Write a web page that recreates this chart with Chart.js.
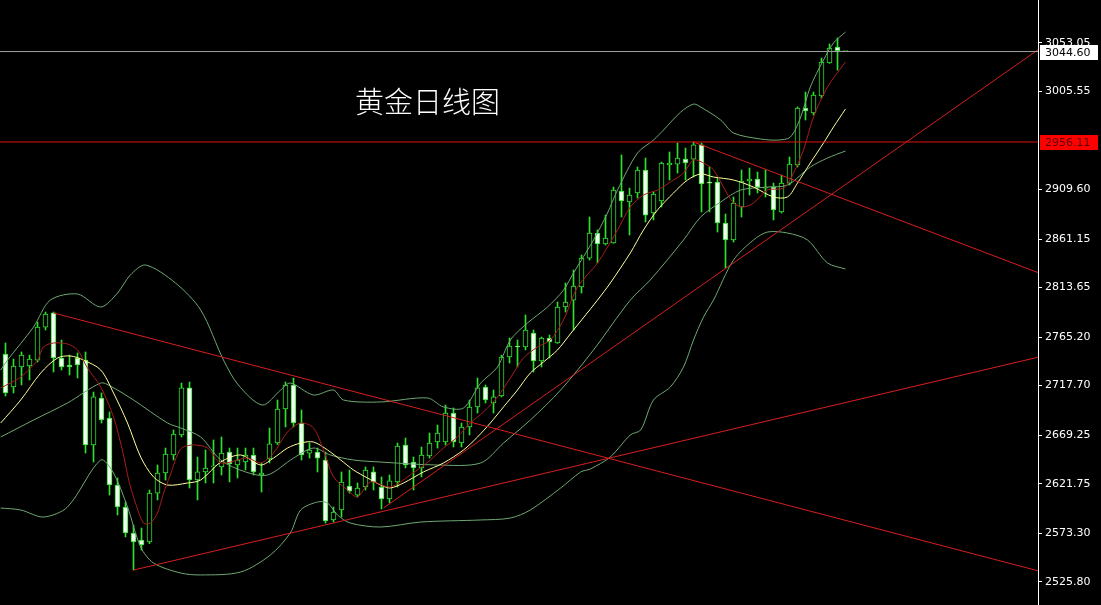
<!DOCTYPE html>
<html>
<head>
<meta charset="utf-8">
<script src="https://cdn.jsdelivr.net/npm/chart.js@4.4.1/dist/chart.umd.min.js"></script>
<style>
  html, body { margin: 0; padding: 0; background: #000; }
  #wrap { position: relative; width: 1101px; height: 605px; background: #000; }
  #title { position: absolute; left: 355px; top: 86px; color: #fff; font-family: "Noto Sans CJK SC", sans-serif; font-size: 29px; line-height: 1; font-weight: 300; white-space: nowrap; }
</style>
</head>
<body>
<div id="wrap">
  <canvas id="c" width="1101" height="605"></canvas>
  <div id="title">黄金日线图</div>
</div>
<script>
// ---- Daily candles (index 0..105) ----
const opens = [2748.6,2716.3,2735.9,2736.9,2742.7,2775.0,2788.8,2744.7,2737.9,2744.7,
  2742.7,2659.6,2705.6,2686.0,2620.4,2598.9,2573.5,2566.6,2564.7,2612.5,
  2632.2,2649.8,2669.4,2715.4,2625.3,2633.2,2638.1,2638.1,2652.7,2640.0,
  2642.9,2649.8,2630.2,2645.9,2661.5,2694.8,2718.3,2681.1,2651.7,2652.7,
  2644.9,2586.2,2596.0,2619.4,2610.6,2618.5,2633.2,2618.5,2606.7,2623.4,
  2659.6,2642.9,2637.1,2648.8,2662.5,2662.5,2690.9,2661.5,2677.2,2696.8,
  2716.3,2700.7,2707.5,2745.7,2756.4,2755.5,2769.2,2741.8,2764.3,2759.4,
  2794.6,2801.4,2814.2,2842.5,2867.0,2856.3,2857.3,2908.1,2897.4,2906.2,
  2928.7,2886.6,2898.4,2933.6,2934.5,2939.4,2939.4,2953.2,2916.9,2916.9,
  2876.8,2860.2,2892.5,2917.9,2919.9,2911.0,2912.0,2887.6,2915.9,2933.6,
  2989.4,2984.5,3001.1,3033.4,3049.0,3044.6];
const highs = [2759.4,2743.7,2750.6,2747.6,2779.9,2789.7,2789.7,2762.3,2747.6,2749.6,
  2750.6,2711.4,2710.5,2691.9,2627.3,2603.8,2581.3,2578.3,2615.5,2640.0,
  2656.6,2674.3,2720.2,2721.2,2647.8,2654.7,2664.5,2667.4,2656.6,2656.6,
  2656.6,2656.6,2642.0,2676.2,2703.6,2721.2,2725.1,2693.8,2661.5,2656.6,
  2652.7,2598.9,2633.2,2635.1,2622.4,2638.1,2638.1,2628.3,2630.2,2661.5,
  2666.4,2647.8,2657.6,2671.3,2679.1,2698.7,2695.8,2681.1,2703.6,2725.1,
  2718.3,2713.4,2747.6,2764.3,2762.3,2786.8,2772.1,2765.3,2767.2,2799.5,
  2818.1,2830.8,2845.5,2882.7,2870.0,2884.6,2912.0,2943.4,2911.0,2931.6,
  2940.4,2907.2,2936.5,2946.3,2955.1,2950.2,2956.1,2955.1,2931.6,2921.8,
  2885.6,2902.3,2928.7,2930.6,2926.7,2928.7,2915.9,2923.8,2941.4,2990.4,
  3005.0,3005.0,3038.3,3052.0,3057.9,3044.6];
const lows = [2707.5,2710.5,2718.3,2723.2,2740.8,2772.1,2731.0,2733.0,2728.1,2725.1,
  2651.7,2642.9,2681.1,2610.6,2591.1,2569.6,2537.2,2556.8,2563.0,2605.8,
  2625.3,2644.9,2667.4,2617.5,2605.8,2622.4,2622.4,2630.2,2623.4,2627.3,
  2635.1,2630.2,2613.5,2642.0,2660.0,2677.2,2677.2,2644.9,2646.8,2633.2,
  2583.2,2584.2,2589.1,2612.5,2608.7,2615.5,2615.5,2597.0,2602.8,2618.5,
  2637.1,2615.5,2628.3,2646.8,2656.6,2659.6,2657.6,2657.6,2669.4,2690.9,
  2700.7,2690.9,2706.6,2739.8,2735.9,2752.6,2731.0,2735.9,2744.7,2759.0,
  2789.7,2772.1,2808.3,2840.6,2837.7,2855.3,2857.0,2882.7,2865.1,2901.3,
  2877.8,2879.8,2892.5,2918.9,2925.7,2918.9,2921.8,2887.6,2887.6,2868.0,
  2832.8,2858.2,2882.7,2904.2,2906.2,2902.3,2879.8,2886.6,2914.0,2931.6,
  2977.6,2982.5,2999.1,3033.0,3026.5,3044.6];
const closes = [2710.5,2736.9,2747.6,2743.7,2775.0,2787.8,2744.7,2735.9,2735.9,2737.9,
  2659.6,2706.6,2684.0,2620.4,2598.9,2573.5,2564.7,2561.7,2612.5,2632.2,
  2650.7,2670.3,2715.4,2625.3,2633.2,2637.1,2639.0,2651.7,2641.0,2644.9,
  2649.8,2633.2,2632.2,2660.6,2694.8,2718.3,2681.1,2649.8,2654.7,2646.8,
  2585.2,2594.0,2623.4,2614.5,2617.5,2635.1,2623.4,2606.7,2624.4,2658.6,
  2640.0,2637.1,2649.8,2661.5,2671.3,2690.9,2662.5,2677.2,2696.8,2715.4,
  2703.6,2706.6,2745.7,2756.4,2755.5,2772.1,2741.8,2764.3,2760.4,2794.6,
  2799.5,2815.2,2842.5,2867.0,2856.3,2862.1,2909.1,2898.4,2904.2,2928.7,
  2884.6,2905.2,2935.5,2935.5,2940.4,2935.5,2953.2,2915.0,2915.9,2876.8,
  2860.2,2896.4,2917.9,2919.9,2912.0,2912.0,2889.6,2915.9,2934.5,2989.4,
  2986.4,3002.1,3034.4,3048.0,3045.5,3044.6];

// ---- Indicator lines: [candle index, price] ----
const maFast = [[-0.6,2715.4],[1.9,2726.1],[4.0,2742.7],[4.75,2755.5],[6.0,2759.4],[7.75,2758.4],[9.0,2752.6],
  [10.25,2734.9],[11.9,2716.3],[13.5,2687.0],[14.75,2649.8],[15.4,2625.3],[16.25,2602.8],[17.25,2583.2],
  [18.1,2583.2],[19.0,2593.0],[19.75,2612.5],[20.6,2630.2],[21.9,2655.7],[23.5,2659.6],[25.25,2656.6],
  [26.9,2642.0],[30.25,2646.8],[31.9,2642.0],[33.5,2651.7],[35.25,2672.3],[36.9,2681.1],[38.5,2676.2],
  [39.75,2654.7],[41.0,2628.3],[42.75,2615.5],[44.0,2608.7],[45.6,2623.4],[48.1,2618.5],[50.6,2630.2],
  [53.1,2644.9],[54.75,2656.6],[56.5,2667.4],[58.1,2681.1],[59.75,2691.9],[61.5,2706.6],[63.1,2725.1],
  [64.75,2744.7],[66.5,2755.5],[68.1,2762.3],[69.75,2781.9],[71.5,2814.2],[74.0,2837.7],[76.5,2870.0],
  [78.1,2892.5],[79.75,2904.2],[81.5,2909.1],[83.1,2916.9],[84.75,2925.7],[86.0,2938.5],[87.25,2935.5],
  [88.5,2928.7],[89.75,2912.0],[91.0,2896.4],[92.25,2892.5],[93.5,2896.4],[95.25,2909.1],[97.25,2911.0],
  [98.5,2925.7],[99.75,2948.3],[101.0,2980.5],[102.75,3009.9],[105.0,3034.4]];
const maSlow = [[-0.6,2681.1],[1.9,2703.6],[4.4,2730.0],[6.5,2744.7],[8.1,2746.7],[9.75,2742.7],[11.9,2733.0],
  [13.5,2710.5],[15.25,2681.1],[16.9,2647.8],[18.5,2628.3],[20.25,2620.4],[22.75,2622.4],[24.4,2625.3],
  [26.9,2642.9],[29.4,2649.8],[31.9,2640.0],[33.5,2646.8],[35.25,2656.6],[36.9,2661.5],[38.5,2662.5],
  [40.25,2654.7],[41.9,2644.9],[43.5,2635.1],[45.25,2627.3],[46.9,2620.4],[48.1,2617.5],[49.75,2622.4],
  [52.25,2633.2],[54.75,2642.0],[57.25,2654.7],[59.0,2667.4],[60.6,2681.1],[62.25,2696.8],[64.0,2713.4],
  [65.6,2730.0],[67.25,2740.8],[69.0,2752.6],[70.6,2768.2],[74.0,2801.4],[75.6,2818.1],[78.1,2847.5],
  [79.75,2870.0],[81.5,2889.6],[83.5,2906.2],[85.25,2918.9],[86.9,2924.8],[88.5,2921.8],[91.0,2918.9],
  [93.5,2912.0],[96.0,2902.3],[97.75,2902.3],[99.0,2915.9],[100.6,2935.5],[102.25,2955.1],[103.5,2970.8],
  [105.0,2988.4]];
const bandMid = [[-0.6,2667.4],[3.5,2684.0],[7.75,2700.7],[11.9,2720.2],[13.1,2717.3],[16.0,2703.6],
  [20.25,2681.1],[21.9,2676.2],[24.4,2667.4],[26.9,2644.9],[30.0,2633.2],[32.75,2630.2],[36.0,2646.8],
  [38.5,2656.6],[40.6,2649.8],[43.5,2644.9],[46.9,2642.9],[54.0,2640.0],[59.4,2642.0],[62.25,2661.5],
  [65.6,2684.0],[69.4,2713.4],[73.5,2752.6],[78.1,2801.4],[80.6,2821.1],[84.75,2860.2],[86.9,2882.7],
  [89.4,2897.4],[91.9,2909.1],[95.25,2912.0],[97.75,2914.0],[100.6,2931.6],[102.75,2940.4],[105.0,2947.3]];
const bandUp = [[-0.6,2733.0],[0.25,2742.7],[3.5,2775.0],[5.6,2801.4],[9.0,2807.3],[11.9,2794.6],[14.0,2808.3],
  [15.6,2825.9],[17.5,2835.7],[21.25,2818.1],[24.4,2791.7],[27.25,2742.7],[29.1,2718.3],[32.1,2698.7],
  [34.4,2713.4],[35.6,2720.2],[38.5,2708.5],[41.0,2713.4],[42.25,2703.6],[46.9,2701.7],[52.75,2705.6],
  [54.75,2696.8],[57.25,2695.8],[59.4,2720.2],[61.5,2735.9],[63.1,2762.3],[65.25,2779.0],[67.75,2794.6],
  [69.75,2811.2],[71.0,2827.9],[73.5,2860.2],[75.25,2886.6],[76.5,2909.1],[79.0,2945.3],[81.0,2958.0],
  [82.25,2967.8],[84.4,2985.4],[86.0,2993.2],[86.9,2990.3],[89.4,2977.6],[91.0,2964.9],[94.4,2959.0],
  [96.5,2958.0],[98.1,2960.9],[99.4,2980.5],[100.6,3009.9],[102.25,3036.3],[103.5,3053.0],[105.0,3063.7]];
const bandLow = [[-0.6,2597.9],[1.9,2596.0],[4.75,2589.1],[7.75,2598.9],[11.9,2644.9],[13.5,2632.2],
  [15.25,2598.9],[16.9,2559.7],[18.5,2544.1],[21.9,2534.3],[24.4,2532.4],[29.4,2535.3],[33.1,2551.9],
  [35.6,2573.5],[36.9,2596.0],[39.0,2603.8],[40.25,2602.8],[41.5,2591.1],[43.1,2583.2],[46.9,2579.3],
  [51.9,2584.2],[59.4,2586.2],[63.1,2588.1],[65.6,2596.0],[69.4,2617.5],[71.9,2633.2],[73.1,2636.1],
  [75.6,2647.8],[78.1,2669.4],[79.4,2674.3],[81.0,2703.6],[83.1,2716.3],[84.75,2735.9],[86.0,2762.3],
  [87.25,2784.8],[88.5,2801.4],[91.0,2840.6],[93.5,2860.2],[95.25,2868.0],[97.75,2867.0],[100.25,2860.2],
  [102.75,2837.7],[105.0,2831.8]];

// ---- Hand-drawn trend lines and levels ----
const trendDown1 = [[6.0,2788.8],[129.2,2536.2]];
const trendUp1   = [[16.0,2537.2],[129.2,2745.7]];
const trendDown2 = [[86.0,2956.1],[129.2,2827.9]];
const trendUp2   = [[47.25,2597.9],[129.2,3047.1]];
const lastPrice = 3044.60;
const resistance = 2956.11;
const yTicks = [3053.05,3005.55,2909.60,2861.15,2813.65,2765.20,2717.70,2669.25,2621.75,2573.30,2525.80];

// ---- styles ----
const GREEN = '#2fe02f';
const DOWN_FILL = '#eefff0';
const UP_FILL = '#000000';

const toXY = arr => arr.map(p => ({x: p[0], y: p[1]}));
const lineDs = (arr, color, order, tension) => ({
  type: 'line', data: toXY(arr), borderColor: color, borderWidth: 1,
  pointRadius: 0, tension: tension, fill: false, order: order
});

const idx = opens.map((_, i) => i);
const wicks = idx.map(i => ({x: i, y: [lows[i], highs[i]]}));
const bodies = idx.map(i => ({x: i, y: [opens[i], closes[i]]}));
const bodyFill = idx.map(i => closes[i] >= opens[i] ? UP_FILL : DOWN_FILL);

const priceTags = {
  id: 'priceTags',
  afterDraw(chart) {
    const {ctx, chartArea, scales} = chart;
    const tag = (v, bg, fg) => {
      const y = Math.round(scales.y.getPixelForValue(v));
      ctx.save();
      ctx.fillStyle = bg;
      ctx.fillRect(chartArea.right + 2, y - 7, 58, 15);
      ctx.fillStyle = fg;
      ctx.font = '11px "DejaVu Sans"';
      ctx.textBaseline = 'middle';
      ctx.textAlign = 'left';
      ctx.fillText(v.toFixed(2), chartArea.right + 7, y + 1);
      ctx.restore();
    };
    tag(lastPrice, '#ffffff', '#000000');
    tag(resistance, '#ff0000', '#5a0000');
  }
};

new Chart(document.getElementById('c'), {
  type: 'bar',
  data: {
    datasets: [
      lineDs(bandUp, '#6fa873', 5, 0.3),
      lineDs(bandMid, '#6fa873', 5, 0.3),
      lineDs(bandLow, '#6fa873', 5, 0.3),
      lineDs(maSlow, '#ffff9a', 4, 0.3),
      lineDs(maFast, '#a81c1c', 3, 0.3),
      lineDs(trendDown1, '#d81e1e', 2, 0),
      lineDs(trendUp1, '#d81e1e', 2, 0),
      lineDs(trendDown2, '#d81e1e', 2, 0),
      lineDs(trendUp2, '#d81e1e', 2, 0),
      lineDs([[-2, lastPrice],[131, lastPrice]], '#a0a0a0', 1, 0),
      lineDs([[-2, resistance],[131, resistance]], '#e01010', 1, 0),
      { type: 'bar', data: bodies, backgroundColor: bodyFill, borderColor: GREEN, borderWidth: 1,
        borderSkipped: false, barThickness: 5, minBarLength: 1, grouped: false, order: 10 },
      { type: 'bar', data: wicks, backgroundColor: GREEN, borderWidth: 0,
        barThickness: 1, grouped: false, order: 11 }
    ]
  },
  options: {
    responsive: false,
    animation: false,
    events: [],
    layout: { padding: 0 },
    plugins: { legend: { display: false }, tooltip: { enabled: false }, title: { display: false } },
    scales: {
      x: { type: 'linear', min: -0.6875, max: 129.0625, offset: false, display: false,
           grid: { display: false } },
      y: {
        position: 'right', min: 2503.0, max: 3095.05,
        border: { display: true, color: '#ffffff', width: 1 },
        grid: { display: true, drawOnChartArea: false, drawTicks: true, tickLength: 4, color: '#ffffff' },
        ticks: { color: '#ffffff', font: { family: 'DejaVu Sans', size: 11 }, padding: 3, autoSkip: false,
                 callback: v => Number(v).toFixed(2) },
        afterBuildTicks: s => { s.ticks = yTicks.map(v => ({value: v})); },
        afterFit: s => { s.width = 63; s.paddingTop = 0; s.paddingBottom = 0; }
      }
    }
  },
  plugins: [priceTags]
});
</script>
</body>
</html>
